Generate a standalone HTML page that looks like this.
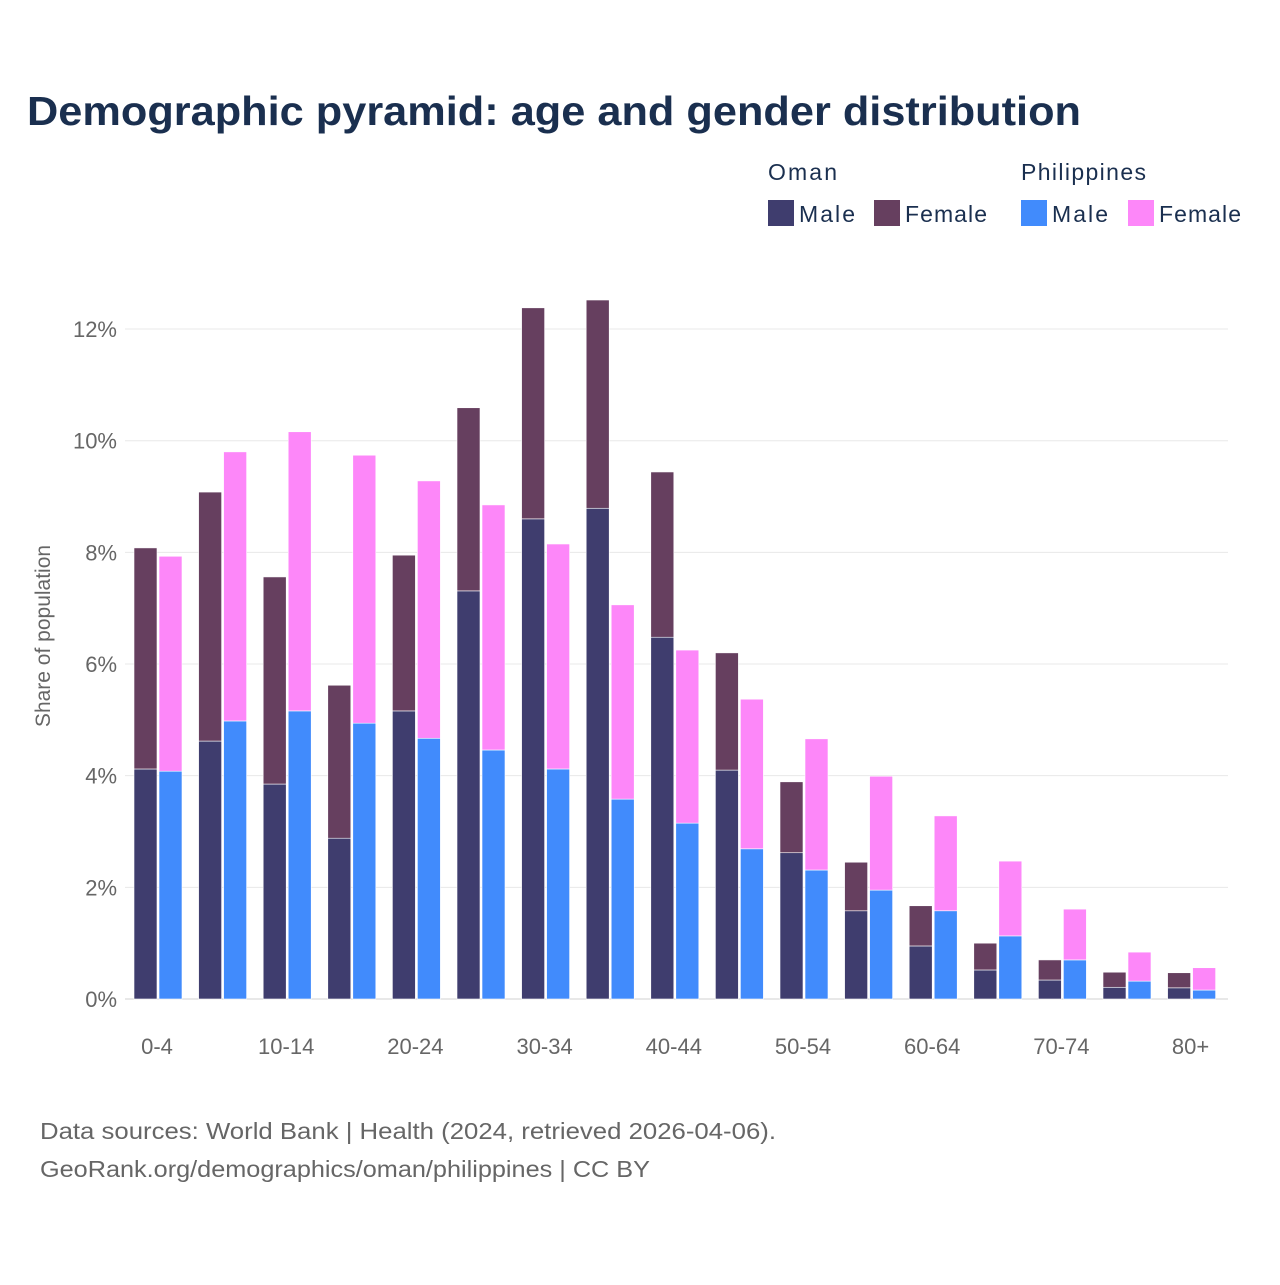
<!DOCTYPE html>
<html><head><meta charset="utf-8"><style>
body{margin:0;background:#fff;font-family:"Liberation Sans",sans-serif;}
svg text{font-family:"Liberation Sans",sans-serif;}
</style></head><body>
<svg width="1280" height="1280" xmlns="http://www.w3.org/2000/svg">
<rect width="1280" height="1280" fill="#fff"/>
<text x="27" y="125" font-size="41" font-weight="bold" fill="#1a2f4f" textLength="1054" lengthAdjust="spacingAndGlyphs">Demographic pyramid: age and gender distribution</text>
<g id="legend">
<text x="768" y="180" font-size="23" fill="#1a2f4f" textLength="69">Oman</text>
<text x="1021" y="180" font-size="23" fill="#1a2f4f" textLength="125">Philippines</text>
<rect x="768" y="200" width="26" height="26" fill="#3f3d6e"/>
<text x="799" y="222" font-size="23" fill="#1a2f4f" textLength="56">Male</text>
<rect x="874" y="200" width="26" height="26" fill="#663f5f"/>
<text x="905" y="222" font-size="23" fill="#1a2f4f" textLength="82">Female</text>
<rect x="1021" y="200" width="26" height="26" fill="#418bfc"/>
<text x="1052" y="222" font-size="23" fill="#1a2f4f" textLength="56">Male</text>
<rect x="1128" y="200" width="26" height="26" fill="#fd87f9"/>
<text x="1159" y="222" font-size="23" fill="#1a2f4f" textLength="82">Female</text>
</g>
<g id="grid"></g>
<g id="bars"></g>
<g id="axes"></g>
<text transform="translate(50,636) rotate(-90)" text-anchor="middle" font-size="21" fill="#666">Share of population</text>
<text x="40" y="1139" font-size="23" fill="#666" textLength="736" lengthAdjust="spacingAndGlyphs">Data sources: World Bank | Health (2024, retrieved 2026-04-06).</text>
<text x="40" y="1177" font-size="23" fill="#666" textLength="610" lengthAdjust="spacingAndGlyphs">GeoRank.org/demographics/oman/philippines | CC BY</text>
</svg>
<script>
const categories=["0-4","5-9","10-14","15-19","20-24","25-29","30-34","35-39","40-44","45-49","50-54","55-59","60-64","65-69","70-74","75-79","80+"];
const omanMale=[4.12,4.62,3.85,2.88,5.16,7.31,8.60,8.79,6.48,4.10,2.62,1.58,0.95,0.52,0.34,0.21,0.20];
const omanFemale=[3.96,4.46,3.71,2.74,2.79,3.28,3.78,3.73,2.96,2.10,1.27,0.87,0.72,0.48,0.36,0.27,0.27];
const phMale=[4.08,4.98,5.16,4.94,4.67,4.46,4.12,3.58,3.15,2.69,2.31,1.95,1.58,1.13,0.70,0.32,0.16];
const phFemale=[3.85,4.82,5.00,4.80,4.61,4.39,4.03,3.48,3.10,2.68,2.35,2.04,1.70,1.34,0.91,0.52,0.40];
const yTicks=[0,2,4,6,8,10,12];
const NS="http://www.w3.org/2000/svg";
const x0=124.7,band=64.6,y0=999,pxPer=55.83,xEnd=1228;
const y=v=>y0-v*pxPer;
function mk(tag,attrs,parent){const e=document.createElementNS(NS,tag);for(const k in attrs)e.setAttribute(k,attrs[k]);parent.appendChild(e);return e;}
const grid=document.getElementById('grid'),bars=document.getElementById('bars'),axes=document.getElementById('axes');
yTicks.forEach(t=>{
  const l=mk('line',{x1:125,x2:xEnd,y1:y(t),y2:y(t),stroke:t===0?'#d0d0d0':'#e8e8e8','stroke-width':1},grid);
  
  
  const tx=mk('text',{x:117,y:y(t)+8,'text-anchor':'end','font-size':22,fill:'#666'},axes);
  tx.textContent=t+'%';
  
  
});
function bar(x,v0,v1,fill,name){
  const r=mk('rect',{x:x,y:y(v1),width:23,height:y(v0)-y(v1),fill:fill,stroke:'#fff','stroke-width':0.6},bars);
  
  
}
categories.forEach((c,i)=>{
  const bx=x0+i*band;
  bar(bx+9.3,0,omanMale[i],'#3f3d6e','bar-oman-male-'+c);
  bar(bx+9.3,omanMale[i],omanMale[i]+omanFemale[i],'#663f5f','bar-oman-female-'+c);
  bar(bx+34.3,0,phMale[i],'#418bfc','bar-ph-male-'+c);
  bar(bx+34.3,phMale[i],phMale[i]+phFemale[i],'#fd87f9','bar-ph-female-'+c);
  if(i%2===0){
    const t=mk('text',{x:bx+band/2,y:1054,'text-anchor':'middle','font-size':22,fill:'#666'},axes);
    t.textContent=c;
    
    
  }
});
</script>
</body></html>
